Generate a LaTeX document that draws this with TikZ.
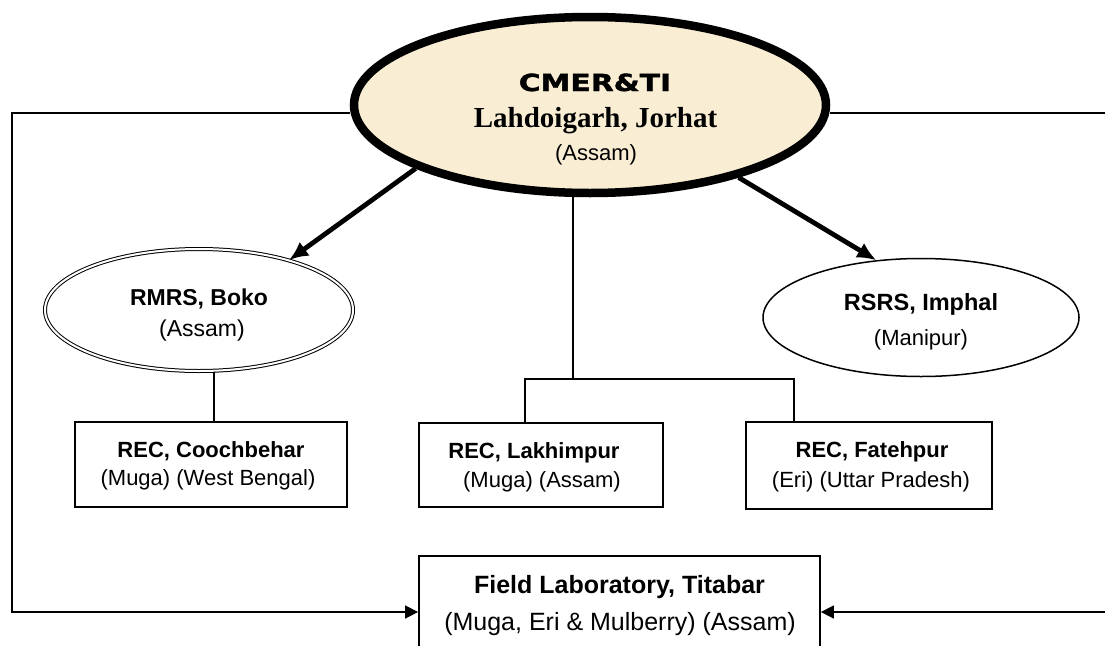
\documentclass[tikz,border=0pt]{standalone}
\usepackage{fontspec}
\setmainfont{Liberation Sans}
\newfontfamily\timesf{Liberation Serif}
\newfontfamily\blackf[BoldFeatures={FakeBold=1.5}]{DejaVu Sans}
\usepackage{graphicx}
\usetikzlibrary{shapes.geometric,arrows.meta}
\definecolor{beige}{RGB}{249,238,212}
\begin{document}
\begin{tikzpicture}[x=1pt,y=-1pt,
  conn/.style={line width=1.6pt},
  box/.style={draw,line width=1.8pt,rectangle,inner sep=0pt},
  txt/.style={inner sep=0pt,anchor=base},
  boxtitle/.style={txt,font=\bfseries\fontsize{22}{22}\selectfont},
  boxsub/.style={txt,font=\fontsize{22}{22}\selectfont},
  bigarrow/.style={line width=4.8pt,-{Latex[length=19pt,width=17pt]}},
  smallarrow/.style={line width=1.6pt,-{Triangle[length=13pt,width=13pt]}}
]
\clip (0,0) rectangle (1105,645);
\useasboundingbox (0,0) rectangle (1105,645);
\fill[white] (0,0) rectangle (1105,645);

% nodes
\node[ellipse,draw,line width=8.5pt,fill=beige,minimum width=472pt,minimum height=176pt,inner sep=0pt] (top) at (590,105) {};
\node[ellipse,draw,double,double distance=2pt,line width=1pt,minimum width=308pt,minimum height=122pt,inner sep=0pt] (rmrs) at (199,310) {};
\node[ellipse,draw,line width=1.5pt,minimum width=316pt,minimum height=118pt,inner sep=0pt] (rsrs) at (921,317.5) {};
\node[box,minimum width=272pt,minimum height=85pt] (cooch) at (211,464.5) {};
\node[box,minimum width=244pt,minimum height=84pt] (lakh) at (541,465) {};
\node[box,minimum width=246pt,minimum height=87pt] (fate) at (869,465.5) {};
\node[box,minimum width=401pt,minimum height=120pt] (field) at (619.5,616) {};

% texts
\node[txt,font=\blackf\bfseries\fontsize{23.5}{23.5}\selectfont] (t0) at (595,91) {\scalebox{1.27}[1]{CMER\&TI}};
\node[txt,font=\timesf\bfseries\fontsize{29}{29}\selectfont] (t1) at (595.5,127) {Lahdoigarh, Jorhat};
\node[txt,font=\fontsize{22}{22}\selectfont] (t2) at (596,160) {(Assam)};
\node[txt,font=\bfseries\fontsize{23}{23}\selectfont] (r1) at (199,305) {RMRS, Boko};
\node[txt,font=\fontsize{23}{23}\selectfont] (r2) at (202,336) {(Assam)};
\node[txt,font=\bfseries\fontsize{23.5}{23.5}\selectfont] (s1) at (921,310) {RSRS, Imphal};
\node[txt,font=\fontsize{22}{22}\selectfont] (s2) at (921,345) {(Manipur)};
\node[boxtitle] (c1) at (211,457) {REC, Coochbehar};
\node[boxsub] (c2) at (208,485) {(Muga) (West Bengal)};
\node[boxtitle] (l1) at (534,458) {REC, Lakhimpur};
\node[boxsub] (l2) at (542,487) {(Muga) (Assam)};
\node[boxtitle] (f1) at (872,457) {REC, Fatehpur};
\node[boxsub] (f2) at (871,487) {(Eri) (Uttar Pradesh)};
\node[txt,font=\bfseries\fontsize{25}{25}\selectfont] (g1) at (619.5,593) {Field Laboratory, Titabar};
\node[txt,font=\fontsize{25}{25}\selectfont] (g2) at (620,630) {(Muga, Eri \& Mulberry) (Assam)};

% connectors
\coordinate (L1) at (12,113);
\coordinate (R1) at (1120,113);
\coordinate (FA) at (0,612);
\draw[smallarrow] (top.west |- L1) -- (L1) |- (field.west |- FA);
\draw[smallarrow] (top.east |- R1) -- (R1) |- (field.east |- FA);

\coordinate (J) at (573,379);
\coordinate (J1) at (525,379);
\coordinate (J2) at (794,379);
\draw[conn] (top.south -| J) -- (J);
\draw[conn] (J1 |- lakh.north) -- (J1) -- (J2) -- (J2 |- fate.north);
\coordinate (C) at (214,0);
\draw[conn] (rmrs.south -| C) -- (cooch.north -| C);

\draw[bigarrow] (top.200) -- (rmrs.29);
\draw[bigarrow] (top.-26) -- (rsrs.128);
\end{tikzpicture}
\end{document}
